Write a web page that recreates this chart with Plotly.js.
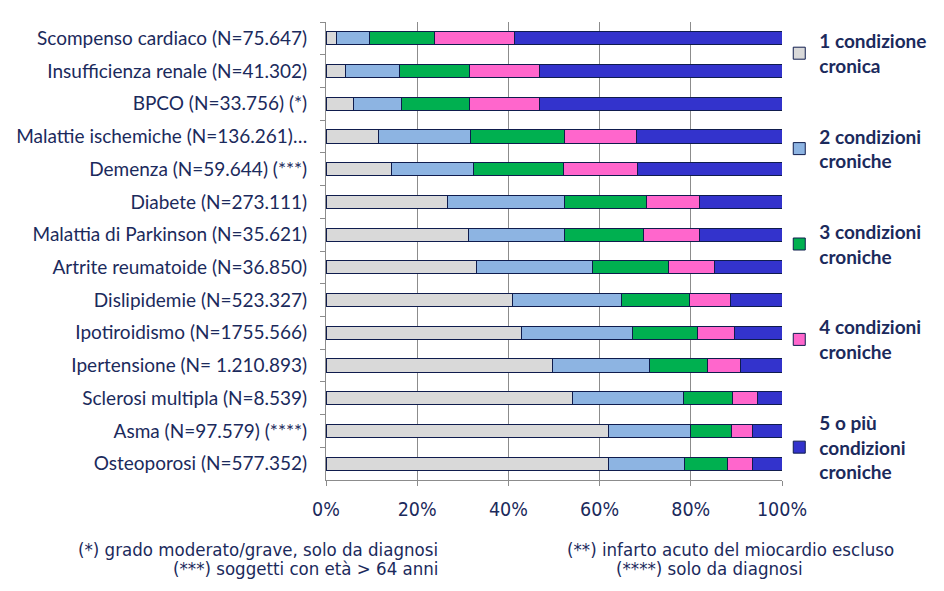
<!DOCTYPE html>
<html><head><meta charset="utf-8">
<script src="https://cdn.plot.ly/plotly-3.0.1.min.js"></script>
<style>html,body{margin:0;padding:0;background:#fff}#chart{width:944px;height:591px}</style>
</head><body><div id="chart"></div>
<script>
const categories = [
  "Scompenso cardiaco (N=75.647)",
  "Insufficienza renale (N=41.302)",
  "BPCO (N=33.756) (*)",
  "Malattie ischemiche (N=136.261)…",
  "Demenza (N=59.644) (***)",
  "Diabete (N=273.111)",
  "Malattia di Parkinson (N=35.621)",
  "Artrite reumatoide (N=36.850)",
  "Dislipidemie (N=523.327)",
  "Ipotiroidismo (N=1755.566)",
  "Ipertensione (N= 1.210.893)",
  "Sclerosi multipla (N=8.539)",
  "Asma (N=97.579) (****)",
  "Osteoporosi (N=577.352)"
];
const seriesNames = [
  "1 condizione<br>cronica",
  "2 condizioni<br>croniche",
  "3 condizioni<br>croniche",
  "4 condizioni<br>croniche",
  "5 o più<br>condizioni<br>croniche"
];
const cond1 = [2.2, 4.3, 6.1, 11.5, 14.4, 26.6, 31.2, 33.0, 40.8, 42.8, 49.6, 54.0, 61.9, 61.9];
const cond2 = [7.4, 11.8, 10.5, 20.2, 17.9, 25.8, 21.2, 25.4, 23.9, 24.5, 21.4, 24.5, 18.1, 16.8];
const cond3 = [14.3, 15.4, 14.9, 20.6, 19.8, 17.8, 17.2, 16.8, 15.1, 14.2, 12.7, 10.7, 9.0, 9.4];
const cond4 = [17.5, 15.4, 15.4, 15.9, 16.3, 11.6, 12.2, 10.1, 9.0, 8.1, 7.3, 5.5, 4.6, 5.5];
const cond5 = [58.6, 53.1, 53.1, 31.8, 31.6, 18.2, 18.2, 14.7, 11.2, 10.4, 9.0, 5.3, 6.4, 6.4];
const xTickVals = [0, 20, 40, 60, 80, 100];
const xTickText = ["0%", "20%", "40%", "60%", "80%", "100%"];
const footLeft = ["(*) grado moderato/grave, solo da diagnosi", "(***) soggetti con età > 64 anni"];
const footRight = ["(**) infarto acuto del miocardio escluso", "(****) solo da diagnosi"];

const colors = ["#D9D9D9", "#8DB4E2", "#00B050", "#FF66CC", "#3333CC"];
const allSeries = [cond1, cond2, cond3, cond4, cond5];
const navy = "#1b2a5c";
const condFont = "'DejaVu Sans Condensed', 'DejaVu Sans', sans-serif";
const footFont = {family: condFont, stretch: "condensed", size: 18.5, color: navy};

const traces = allSeries.map((vals, i) => ({
  type: "bar",
  orientation: "h",
  name: seriesNames[i],
  legendgroup: "g" + i,
  y: categories,
  x: vals,
  width: 0.4,
  marker: {color: colors[i], line: {color: "#0f1c4d", width: 1}},
  hoverinfo: "x+y+name"
}));

const layout = {
  width: 944, height: 591,
  margin: {l: 326, r: 162, t: 22, b: 111},
  barmode: "stack",
  paper_bgcolor: "#fff", plot_bgcolor: "#fff",
  font: {family: "Lato, 'Open Sans', sans-serif", color: navy, size: 17},
  xaxis: {
    range: [0, 100], tickvals: xTickVals, ticktext: xTickText,
    showgrid: true, gridcolor: "#8c8c8c", gridwidth: 1,
    showline: true, linecolor: "#8c8c8c", linewidth: 1,
    ticks: "outside", ticklen: 5, tickcolor: "#8c8c8c",
    ticklabelstandoff: 7,
    zeroline: false, fixedrange: true,
    tickfont: {family: condFont, stretch: "condensed", size: 19.5, color: navy}
  },
  yaxis: {
    type: "category", autorange: "reversed",
    showline: true, linecolor: "#8c8c8c", linewidth: 1,
    ticks: "outside", ticklen: 5, tickcolor: "#8c8c8c", tickson: "boundaries",
    ticklabelstandoff: 14,
    tickfont: {family: "Lato, 'Open Sans', sans-serif", size: 19, color: navy},
    fixedrange: true
  },
  legend: {
    x: 0.994, xanchor: "left", y: 1.0, yanchor: "top",
    bgcolor: "rgba(0,0,0,0)",
    traceorder: "grouped", tracegroupgap: 43,
    font: {family: "Lato, 'Open Sans', sans-serif", size: 19, color: navy, weight: "bold"},
    itemwidth: 30
  },
  annotations: [
    {text: footLeft[0], xref: "paper", yref: "paper", x: 0.25, y: -0.1507, xanchor: "right", yanchor: "middle", showarrow: false, font: footFont},
    {text: footLeft[1], xref: "paper", yref: "paper", x: 0.25, y: -0.1943, xanchor: "right", yanchor: "middle", showarrow: false, font: footFont},
    {text: footRight[0], xref: "paper", yref: "paper", x: 0.886, y: -0.1507, xanchor: "center", yanchor: "middle", showarrow: false, font: footFont},
    {text: footRight[1], xref: "paper", yref: "paper", x: 0.840, y: -0.1943, xanchor: "center", yanchor: "middle", showarrow: false, font: footFont}
  ],
  showlegend: true
};
Plotly.newPlot("chart", traces, layout, {displayModeBar: false, staticPlot: true});
</script></body></html>
